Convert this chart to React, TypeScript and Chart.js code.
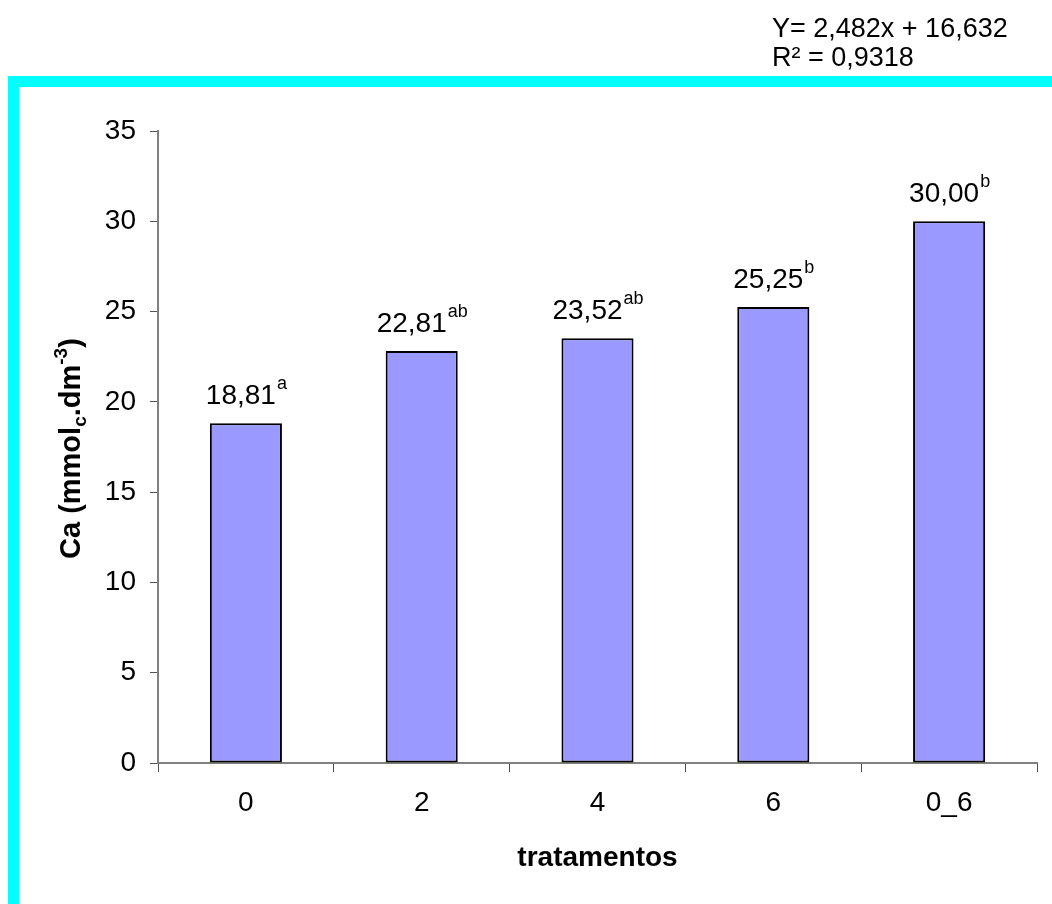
import React, { useEffect, useRef } from "react";
import { Chart, registerables } from "chart.js";

Chart.register(...registerables);

const categories = ["0", "2", "4", "6", "0_6"];
const values = [18.81, 22.81, 23.52, 25.25, 30.0];
const valueLabels = ["18,81", "22,81", "23,52", "25,25", "30,00"];
const letters = ["a", "ab", "ab", "b", "b"];
const yMin = 0;
const yMax = 35;
const yStep = 5;
const equationLines = ["Y= 2,482x + 16,632", "R² = 0,9318"];
const xTitle = "tratamentos";

const FONT = '"Liberation Sans", Arial, sans-serif';

const decorPlugin = {
  id: "decor",
  beforeDraw(chart: any) {
    const ctx = chart.ctx;
    ctx.save();
    ctx.fillStyle = "#ffffff";
    ctx.fillRect(0, 0, chart.width, chart.height);
    ctx.fillStyle = "#00FFFF";
    ctx.fillRect(8, 76, chart.width - 8, 11);
    ctx.fillRect(8, 76, 11, chart.height - 76);
    ctx.restore();
  },
  afterDatasetsDraw(chart: any) {
    const ctx = chart.ctx;
    const meta = chart.getDatasetMeta(0);
    ctx.save();
    ctx.fillStyle = "#000";
    ctx.textBaseline = "alphabetic";
    ctx.textAlign = "left";
    meta.data.forEach((bar: any, i: number) => {
      const main = valueLabels[i];
      const sup = letters[i];
      ctx.font = `28px ${FONT}`;
      const wMain = ctx.measureText(main).width;
      ctx.font = `18px ${FONT}`;
      const wSup = ctx.measureText(sup).width;
      const total = wMain + wSup;
      const x0 = bar.x - total / 2;
      const base = bar.y - 19;
      ctx.font = `28px ${FONT}`;
      ctx.fillText(main, x0, base);
      ctx.font = `18px ${FONT}`;
      ctx.fillText(sup, x0 + wMain + 1, base - 15);
    });
    ctx.restore();
  },
  afterDraw(chart: any) {
    const ctx = chart.ctx;
    const area = chart.chartArea;
    ctx.save();
    ctx.fillStyle = "#000";
    // equation
    ctx.font = `27px ${FONT}`;
    ctx.textAlign = "left";
    ctx.textBaseline = "alphabetic";
    ctx.fillText(equationLines[0], 772, 37);
    ctx.fillText(equationLines[1], 772, 66);
    // x title
    ctx.font = `bold 28px ${FONT}`;
    ctx.textAlign = "center";
    ctx.fillText(xTitle, (area.left + area.right) / 2, 866);
    // y title with sub/superscripts
    const parts: [string, number, number][] = [
      ["Ca (mmol", 29, 0],
      ["c", 19, 6],
      [".dm", 29, 0],
      ["-3", 19, -13],
      [")", 29, 0],
    ];
    let total = 0;
    const widths = parts.map(([t, s]) => {
      ctx.font = `bold ${s}px ${FONT}`;
      const w = ctx.measureText(t).width;
      total += w;
      return w;
    });
    const startY = 559;
    ctx.translate(80, startY);
    ctx.rotate(-Math.PI / 2);
    ctx.textAlign = "left";
    let x = 0;
    parts.forEach(([t, s, dy], i) => {
      ctx.font = `bold ${s}px ${FONT}`;
      ctx.fillText(t, x, dy);
      x += widths[i];
    });
    ctx.restore();
  },
};

export default function App() {
  const ref = useRef<HTMLCanvasElement | null>(null);
  useEffect(() => {
    if (!ref.current) return;
    const chart = new Chart(ref.current, {
      type: "bar",
      data: {
        labels: categories,
        datasets: [
          {
            data: values,
            backgroundColor: "#9999FF",
            borderColor: "#000000",
            borderWidth: 2,
            borderSkipped: false,
            barPercentage: 0.41,
            categoryPercentage: 1,
          },
        ],
      },
      options: {
        animation: false,
        responsive: false,
        devicePixelRatio: 1,
        layout: { padding: { left: 0, top: 131, right: 15, bottom: 0 } },
        plugins: {
          legend: { display: false },
          tooltip: { enabled: false },
          title: { display: false },
        },
        scales: {
          x: {
            offset: true,
            afterFit: (s: any) => {
              s.height = 904 - 763;
            },
            grid: {
              offset: true,
              drawOnChartArea: false,
              drawTicks: true,
              tickLength: 9,
              color: "#555555",
            },
            border: { display: true, color: "#808080", width: 2 },
            ticks: {
              color: "#000",
              font: { family: FONT, size: 28 },
              padding: 14,
            },
          },
          y: {
            min: yMin,
            max: yMax,
            afterFit: (s: any) => {
              s.width = 158;
            },
            grid: {
              drawOnChartArea: false,
              drawTicks: true,
              tickLength: 8,
              color: "#555555",
            },
            border: { display: true, color: "#808080", width: 2 },
            ticks: {
              stepSize: yStep,
              color: "#000",
              font: { family: FONT, size: 28 },
              padding: 14,
            },
          },
        },
      },
      plugins: [decorPlugin],
    });
    return () => chart.destroy();
  }, []);
  return (
    <div style={{ position: "absolute", left: 0, top: 0, width: 1052, height: 904 }}>
      <canvas ref={ref} width={1052} height={904} style={{ width: 1052, height: 904 }} />
    </div>
  );
}
